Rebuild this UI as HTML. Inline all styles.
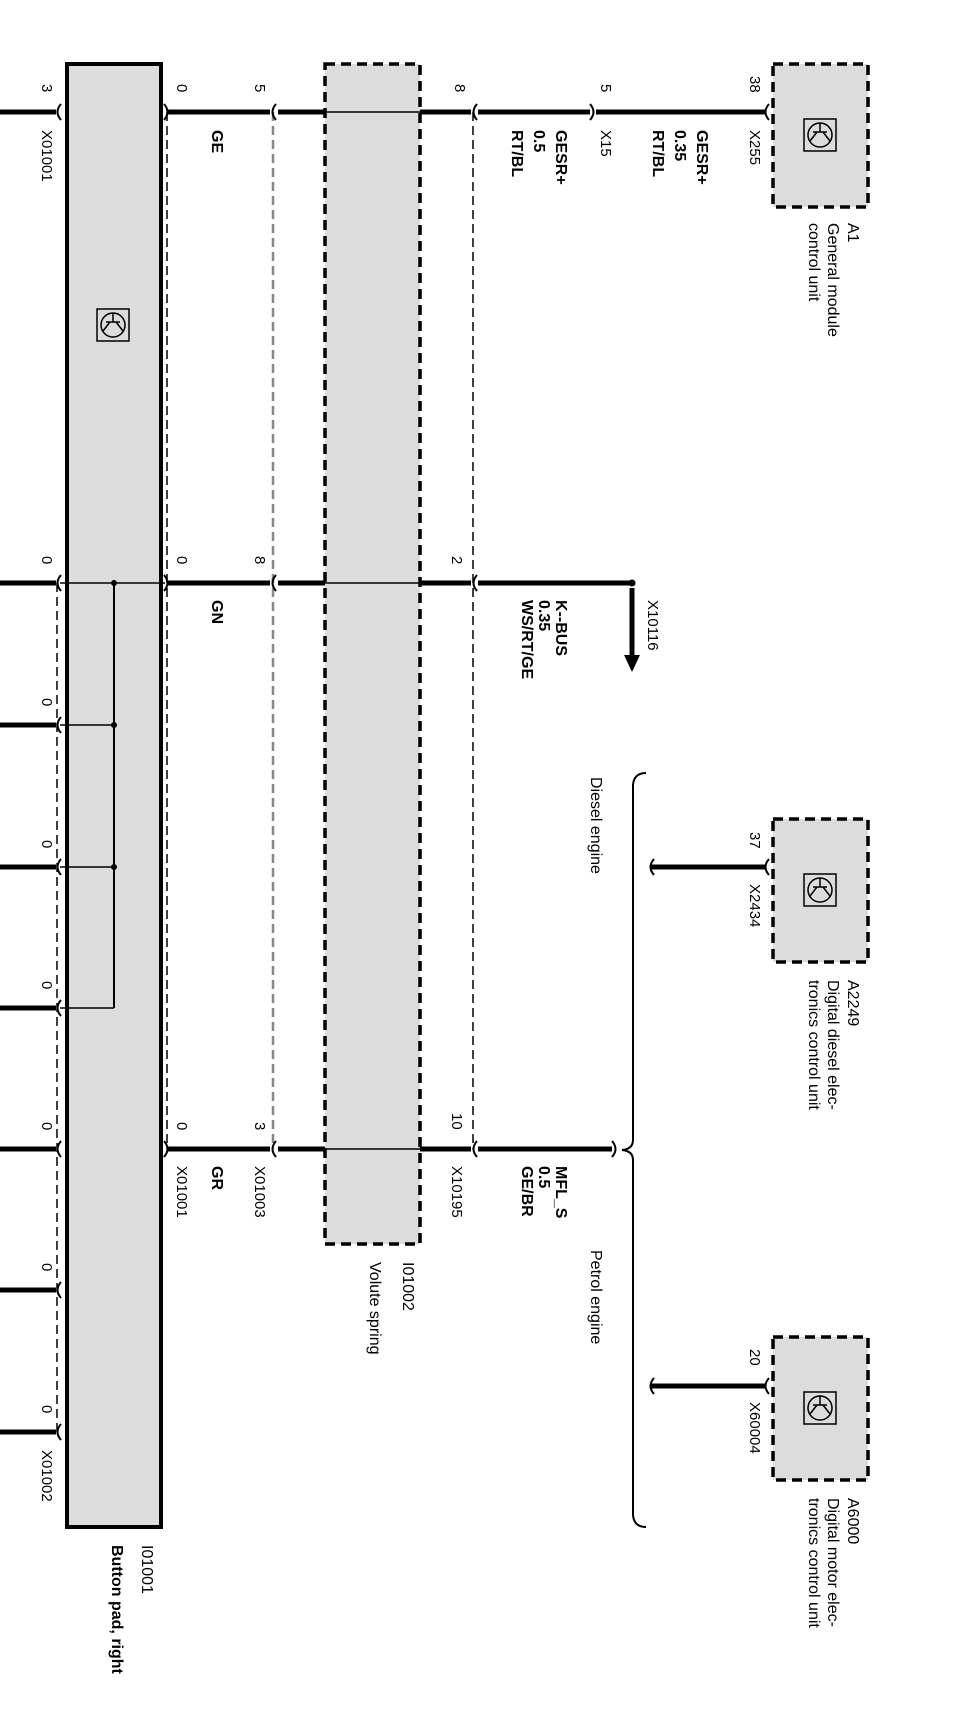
<!DOCTYPE html>
<html><head><meta charset="utf-8"><style>
html,body{margin:0;padding:0;background:#fff;}
svg{display:block;}
text{font-family:"Liberation Sans",Arial,sans-serif;fill:#000;}
.n{font-size:15px;}
.b{font-size:16px;font-weight:bold;}
.l{font-size:16px;}
</style></head><body>
<svg width="962" height="1715" viewBox="0 0 962 1715" xmlns="http://www.w3.org/2000/svg">
<defs>
<g id="ico">
<rect x="-16" y="-16" width="32" height="32" fill="none" stroke="#000" stroke-width="1.5"/>
<circle cx="0" cy="0" r="12" fill="none" stroke="#000" stroke-width="1.5"/>
<path d="M-12 0 H-3 M-3 -7 V7 M-3 -3 L6 -10 M-3 3 L6 10" stroke="#000" stroke-width="1.5" fill="none"/>
</g>
</defs>

<rect x="67" y="64" width="94" height="1463" fill="#dcdcdc" stroke="#000" stroke-width="4"/>
<use href="#ico" x="113" y="325" transform="rotate(90 113 325)"/>
<rect x="325" y="64" width="95" height="1180" fill="#dcdcdc" stroke="#000" stroke-width="3.5" stroke-dasharray="10,6"/>
<rect x="773" y="64" width="95" height="143" fill="#dcdcdc" stroke="#000" stroke-width="3.5" stroke-dasharray="10,6"/>
<use href="#ico" x="820" y="135" transform="rotate(90 820 135)"/>
<rect x="773" y="819" width="95" height="143" fill="#dcdcdc" stroke="#000" stroke-width="3.5" stroke-dasharray="10,6"/>
<use href="#ico" x="820" y="890" transform="rotate(90 820 890)"/>
<rect x="773" y="1337" width="95" height="143" fill="#dcdcdc" stroke="#000" stroke-width="3.5" stroke-dasharray="10,6"/>
<use href="#ico" x="820" y="1408" transform="rotate(90 820 1408)"/>

<g fill="none" stroke-width="1.5">
<line x1="167" y1="112" x2="167" y2="1149" stroke="#000" stroke-dasharray="9,5"/>
<line x1="273" y1="112" x2="273" y2="1149" stroke="#888" stroke-width="2.5" stroke-dasharray="9,5"/>
<line x1="473" y1="112" x2="473" y2="1149" stroke="#000" stroke-dasharray="9,5"/>
<line x1="57" y1="583" x2="57" y2="1432" stroke="#000" stroke-dasharray="9,5"/>
</g>

<g stroke="#000" stroke-width="5" fill="none">
<line x1="0" y1="112" x2="56" y2="112"/>
<line x1="167" y1="112" x2="270" y2="112"/>
<line x1="278" y1="112" x2="325" y2="112"/>
<line x1="420" y1="112" x2="471" y2="112"/>
<line x1="478" y1="112" x2="590" y2="112"/>
<line x1="596" y1="112" x2="765" y2="112"/>

<line x1="0" y1="583" x2="56" y2="583"/>
<line x1="167" y1="583" x2="270" y2="583"/>
<line x1="278" y1="583" x2="325" y2="583"/>
<line x1="420" y1="583" x2="471" y2="583"/>
<line x1="478" y1="583" x2="630" y2="583"/>

<line x1="0" y1="1149" x2="56" y2="1149"/>
<line x1="167" y1="1149" x2="270" y2="1149"/>
<line x1="278" y1="1149" x2="325" y2="1149"/>
<line x1="420" y1="1149" x2="471" y2="1149"/>
<line x1="478" y1="1149" x2="612" y2="1149"/>

<line x1="0" y1="725" x2="56" y2="725"/>
<line x1="0" y1="867" x2="56" y2="867"/>
<line x1="0" y1="1008" x2="56" y2="1008"/>
<line x1="0" y1="1290" x2="56" y2="1290"/>
<line x1="0" y1="1432" x2="56" y2="1432"/>

<line x1="650" y1="867" x2="765" y2="867"/>
<line x1="650" y1="1386" x2="765" y2="1386"/>
<line x1="632" y1="588" x2="632" y2="655"/>
</g>
<g stroke="#000" stroke-width="1.5" fill="none">
<line x1="325" y1="112" x2="420" y2="112"/>
<line x1="325" y1="583" x2="420" y2="583"/>
<line x1="325" y1="1149" x2="420" y2="1149"/>
<line x1="60" y1="583" x2="165" y2="583"/>
<line x1="60" y1="725" x2="114" y2="725"/>
<line x1="60" y1="867" x2="114" y2="867"/>
<line x1="60" y1="1008" x2="114" y2="1008"/>
<line x1="114" y1="583" x2="114" y2="1008" stroke-width="2"/>
</g>
<g fill="#000">
<circle cx="114" cy="583" r="3"/><circle cx="114" cy="725" r="3"/><circle cx="114" cy="867" r="3"/>
<circle cx="632" cy="583" r="3.5"/>
<path d="M624 655 H640 L632 672 Z"/>
</g>

<g stroke="#000" stroke-width="2" fill="none">
<path d="M61 104 Q54 112 61 120"/><path d="M61 575 Q54 583 61 591"/><path d="M61 717 Q54 725 61 733"/>
<path d="M61 859 Q54 867 61 875"/><path d="M61 1000 Q54 1008 61 1016"/><path d="M61 1141 Q54 1149 61 1157"/>
<path d="M61 1282 Q54 1290 61 1298"/><path d="M61 1424 Q54 1432 61 1440"/>
<path d="M164 104 Q171 112 164 120"/><path d="M164 575 Q171 583 164 591"/><path d="M164 1141 Q171 1149 164 1157"/>
<path d="M276 104 Q269 112 276 120"/><path d="M276 575 Q269 583 276 591"/><path d="M276 1141 Q269 1149 276 1157"/>
<path d="M477 104 Q470 112 477 120"/><path d="M477 575 Q470 583 477 591"/><path d="M477 1141 Q470 1149 477 1157"/>
<path d="M590 104 Q597 112 590 120"/>
<path d="M769 104 Q762 112 769 120"/><path d="M769 859 Q762 867 769 875"/><path d="M769 1378 Q762 1386 769 1394"/>
<path d="M654 859 Q647 867 654 875"/><path d="M654 1378 Q647 1386 654 1394"/>
<path d="M612 1141 Q619 1149 612 1157"/>
<path d="M646 773 Q634 773 633 785 V1140 Q633 1149 622 1150 Q633 1151 633 1160 V1515 Q634 1527 646 1527"/>
</g>

<g class="n">
<text transform="translate(42,84) rotate(90)">3</text>
<text transform="translate(42,130) rotate(90)">X01001</text>
<text transform="translate(177,84) rotate(90)">0</text>
<text transform="translate(255,84) rotate(90)">5</text>
<text transform="translate(455,84) rotate(90)">8</text>
<text transform="translate(601,84) rotate(90)">5</text>
<text transform="translate(601,130) rotate(90)">X15</text>
<text transform="translate(750,76) rotate(90)">38</text>
<text transform="translate(750,130) rotate(90)">X255</text>

<text transform="translate(42,556) rotate(90)">0</text>
<text transform="translate(177,556) rotate(90)">0</text>
<text transform="translate(255,556) rotate(90)">8</text>
<text transform="translate(452,556) rotate(90)">2</text>
<text transform="translate(648,600) rotate(90)">X10116</text>

<text transform="translate(42,698) rotate(90)">0</text>
<text transform="translate(42,840) rotate(90)">0</text>
<text transform="translate(42,981) rotate(90)">0</text>
<text transform="translate(42,1122) rotate(90)">0</text>
<text transform="translate(42,1263) rotate(90)">0</text>
<text transform="translate(42,1405) rotate(90)">0</text>
<text transform="translate(42,1450) rotate(90)">X01002</text>

<text transform="translate(177,1122) rotate(90)">0</text>
<text transform="translate(177,1166) rotate(90)">X01001</text>
<text transform="translate(255,1122) rotate(90)">3</text>
<text transform="translate(255,1166) rotate(90)">X01003</text>
<text transform="translate(452,1113) rotate(90)">10</text>
<text transform="translate(452,1166) rotate(90)">X10195</text>

<text transform="translate(750,832) rotate(90)">37</text>
<text transform="translate(750,884) rotate(90)">X2434</text>
<text transform="translate(750,1349) rotate(90)">20</text>
<text transform="translate(750,1402) rotate(90)">X60004</text>
</g>
<g class="b">
<text transform="translate(212,130) rotate(90)">GE</text>
<text transform="translate(212,600) rotate(90)">GN</text>
<text transform="translate(212,1166) rotate(90)">GR</text>
<text transform="translate(556,130) rotate(90)">GESR+</text>
<text transform="translate(534,130) rotate(90)">0.5</text>
<text transform="translate(512,130) rotate(90)">RT/BL</text>
<text transform="translate(697,130) rotate(90)">GESR+</text>
<text transform="translate(675,130) rotate(90)">0.35</text>
<text transform="translate(653,130) rotate(90)">RT/BL</text>
<text transform="translate(556,600) rotate(90)">K--BUS</text>
<text transform="translate(539,600) rotate(90)">0.35</text>
<text transform="translate(522,600) rotate(90)">WS/RT/GE</text>
<text transform="translate(556,1166) rotate(90)">MFL_S</text>
<text transform="translate(539,1166) rotate(90)">0.5</text>
<text transform="translate(522,1166) rotate(90)">GE/BR</text>
<text transform="translate(112,1545) rotate(90)">Button pad, right</text>
</g>
<g class="l">
<text transform="translate(848,223) rotate(90)">A1</text>
<text transform="translate(828,223) rotate(90)">General module</text>
<text transform="translate(809,223) rotate(90)">control unit</text>
<text transform="translate(848,980) rotate(90)">A2249</text>
<text transform="translate(828,980) rotate(90)">Digital diesel elec-</text>
<text transform="translate(809,980) rotate(90)">tronics control unit</text>
<text transform="translate(848,1498) rotate(90)">A6000</text>
<text transform="translate(828,1498) rotate(90)">Digital motor elec-</text>
<text transform="translate(809,1498) rotate(90)">tronics control unit</text>
<text transform="translate(591,777) rotate(90)">Diesel engine</text>
<text transform="translate(591,1250) rotate(90)">Petrol engine</text>
<text transform="translate(403,1262) rotate(90)">I01002</text>
<text transform="translate(370,1262) rotate(90)">Volute spring</text>
<text transform="translate(142,1545) rotate(90)">I01001</text>
</g>
</svg>
</body></html>
